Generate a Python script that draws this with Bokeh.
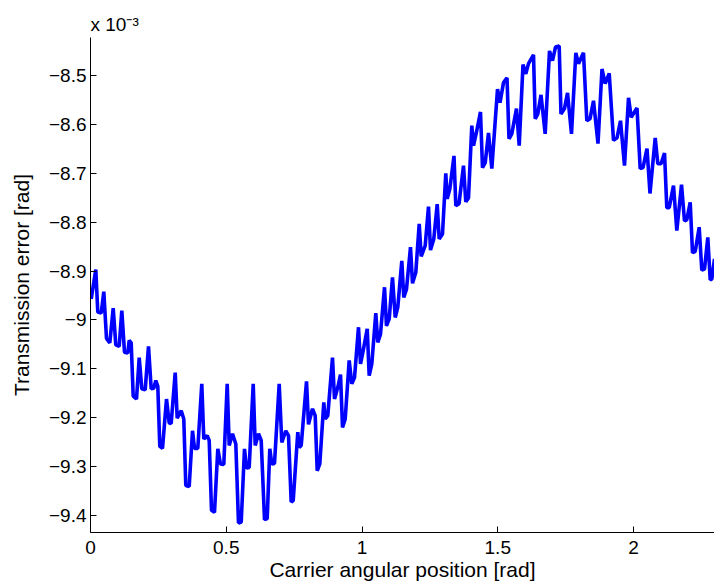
from bokeh.plotting import figure
from bokeh.models import FixedTicker, Range1d
from bokeh.embed import file_html
from bokeh.resources import INLINE

# Carrier angular position [rad]
angle = [0.0026, 0.0195, 0.0269, 0.0394, 0.0490, 0.0589, 0.0711, 0.0836, 0.0932, 0.1057,
         0.1153, 0.1252, 0.1374, 0.1425, 0.1499, 0.1573, 0.1694, 0.1794, 0.1889, 0.2015,
         0.2136, 0.2236, 0.2331, 0.2405, 0.2479, 0.2552, 0.2652, 0.2799, 0.2899, 0.2972,
         0.3120, 0.3193, 0.3341, 0.3436, 0.3510, 0.3635, 0.3757, 0.3831, 0.3952, 0.4099,
         0.4173, 0.4298, 0.4372, 0.4457, 0.4567, 0.4689, 0.4788, 0.4910, 0.5035, 0.5109,
         0.5230, 0.5352, 0.5451, 0.5551, 0.5672, 0.5746, 0.5845, 0.5993, 0.6066, 0.6188,
         0.6287, 0.6409, 0.6508, 0.6604, 0.6678, 0.6777, 0.6950, 0.7046, 0.7193, 0.7293,
         0.7392, 0.7466, 0.7635, 0.7687, 0.7761, 0.7956, 0.8029, 0.8177, 0.8276, 0.8350,
         0.8446, 0.8593, 0.8645, 0.8740, 0.8913, 0.8987, 0.9109, 0.9208, 0.9282, 0.9381,
         0.9528, 0.9624, 0.9724, 0.9871, 0.9945, 1.0044, 1.0192, 1.0265, 1.0361, 1.0508,
         1.0582, 1.0681, 1.0829, 1.0902, 1.1002, 1.1123, 1.1223, 1.1318, 1.1466, 1.1539,
         1.1639, 1.1786, 1.1860, 1.1981, 1.2107, 1.2180, 1.2328, 1.2449, 1.2523, 1.2644,
         1.2770, 1.2843, 1.2965, 1.3086, 1.3138, 1.3234, 1.3388, 1.3455, 1.3573, 1.3738,
         1.3823, 1.3922, 1.4044, 1.4107, 1.4228, 1.4364, 1.4438, 1.4538, 1.4659, 1.4781,
         1.4991, 1.5083, 1.5212, 1.5341, 1.5414, 1.5517, 1.5690, 1.5790, 1.5930, 1.6033,
         1.6132, 1.6317, 1.6379, 1.6475, 1.6593, 1.6747, 1.6906, 1.7016, 1.7127, 1.7263,
         1.7329, 1.7458, 1.7569, 1.7716, 1.7875, 1.7974, 1.8158, 1.8280, 1.8397, 1.8526,
         1.8692, 1.8839, 1.8957, 1.9105, 1.9263, 1.9392, 1.9521, 1.9668, 1.9816, 1.9915,
         2.0129, 2.0246, 2.0350, 2.0497, 2.0607, 2.0799, 2.0895, 2.1013, 2.1142, 2.1226,
         2.1315, 2.1473, 2.1595, 2.1768, 2.1878, 2.1963, 2.2088, 2.2173, 2.2272, 2.2419,
         2.2515, 2.2615, 2.2736, 2.2825, 2.2884, 2.2983]

# Transmission error [x 10^-3 rad]
trans_error = [-8.957, -8.897, -8.984, -8.986, -8.942, -9.038, -9.047, -8.976, -9.051, -9.054,
               -8.981, -9.066, -9.068, -9.042, -9.047, -9.156, -9.162, -9.077, -9.141, -9.143,
               -9.054, -9.141, -9.140, -9.124, -9.136, -9.259, -9.263, -9.162, -9.211, -9.212,
               -9.108, -9.201, -9.186, -9.203, -9.339, -9.341, -9.227, -9.263, -9.263, -9.131,
               -9.244, -9.237, -9.247, -9.390, -9.394, -9.264, -9.295, -9.296, -9.131, -9.257,
               -9.233, -9.254, -9.416, -9.414, -9.264, -9.303, -9.302, -9.131, -9.257, -9.233,
               -9.247, -9.409, -9.407, -9.264, -9.295, -9.294, -9.131, -9.251, -9.227, -9.237,
               -9.373, -9.370, -9.230, -9.261, -9.257, -9.126, -9.214, -9.182, -9.196, -9.309,
               -9.295, -9.169, -9.203, -9.196, -9.077, -9.162, -9.138, -9.112, -9.220, -9.203,
               -9.083, -9.131, -9.118, -9.015, -9.090, -9.063, -9.018, -9.114, -9.090, -8.986,
               -9.046, -9.029, -8.933, -9.012, -8.998, -8.913, -8.995, -8.974, -8.879, -8.954,
               -8.937, -8.851, -8.925, -8.903, -8.803, -8.870, -8.848, -8.768, -8.857, -8.834,
               -8.763, -8.834, -8.824, -8.700, -8.752, -8.732, -8.664, -8.766, -8.762, -8.684,
               -8.758, -8.750, -8.602, -8.643, -8.612, -8.574, -8.688, -8.678, -8.617, -8.690,
               -8.527, -8.555, -8.514, -8.504, -8.629, -8.619, -8.567, -8.643, -8.477, -8.496,
               -8.475, -8.457, -8.588, -8.578, -8.539, -8.619, -8.449, -8.469, -8.441, -8.439,
               -8.578, -8.567, -8.535, -8.619, -8.453, -8.475, -8.453, -8.592, -8.588, -8.551,
               -8.639, -8.486, -8.516, -8.495, -8.632, -8.627, -8.592, -8.684, -8.545, -8.585,
               -8.566, -8.690, -8.688, -8.649, -8.741, -8.627, -8.680, -8.680, -8.658, -8.770,
               -8.770, -8.725, -8.817, -8.723, -8.797, -8.795, -8.759, -8.862, -8.860, -8.810,
               -8.898, -8.896, -8.831, -8.918, -8.916, -8.875]

x_ticks = [0, 0.5, 1, 1.5, 2]
x_tick_labels = ["0", "0.5", "1", "1.5", "2"]
y_ticks = [-9.4, -9.3, -9.2, -9.1, -9.0, -8.9, -8.8, -8.7, -8.6, -8.5]
y_tick_labels = ["\u22129.4", "\u22129.3", "\u22129.2", "\u22129.1", "\u22129",
                 "\u22128.9", "\u22128.8", "\u22128.7", "\u22128.6", "\u22128.5"]
y_scale_text = "x 10\u207b\u00b3"

FONT = "Liberation Sans"

p = figure(width=714, height=587, output_backend="svg", toolbar_location=None,
           x_range=Range1d(0, 2.2983), y_range=Range1d(-9.4354, -8.4215),
           min_border_left=90, min_border_right=0, min_border_top=37, min_border_bottom=55)
p.background_fill_color = "white"
p.border_fill_color = "white"
p.outline_line_color = None
p.xgrid.visible = False
p.ygrid.visible = False

p.line(angle, trans_error, line_color="#0000ff", line_width=3.6)

for ax in (p.xaxis[0], p.yaxis[0]):
    ax.axis_line_color = "black"
    ax.axis_line_width = 1
    ax.major_tick_line_color = "black"
    ax.major_tick_in = 6
    ax.major_tick_out = 0
    ax.minor_tick_line_color = None
    ax.major_label_text_font = FONT
    ax.major_label_text_font_size = "19px"
    ax.major_label_text_color = "black"
    ax.axis_label_text_font = FONT
    ax.axis_label_text_font_size = "21px"
    ax.axis_label_text_font_style = "normal"
    ax.axis_label_text_color = "black"

p.xaxis[0].ticker = FixedTicker(ticks=x_ticks)
p.xaxis[0].major_label_overrides = dict(zip(x_ticks, x_tick_labels))
p.xaxis[0].axis_label = "Carrier angular position [rad]"
p.xaxis[0].major_label_standoff = 8
p.xaxis[0].axis_label_standoff = 1

p.yaxis[0].ticker = FixedTicker(ticks=y_ticks)
p.yaxis[0].major_label_overrides = dict(zip(y_ticks, y_tick_labels))
p.yaxis[0].axis_label = "Transmission error [rad]"
p.yaxis[0].major_label_standoff = 4
p.yaxis[0].axis_label_standoff = 13

p.title.text = y_scale_text
p.title.align = "left"
p.title.text_font = FONT
p.title.text_font_size = "19px"
p.title.text_font_style = "normal"
p.title.text_color = "black"
p.title.standoff = 6
p.title.offset = 0

open("out.html", "w").write(file_html(p, INLINE))
